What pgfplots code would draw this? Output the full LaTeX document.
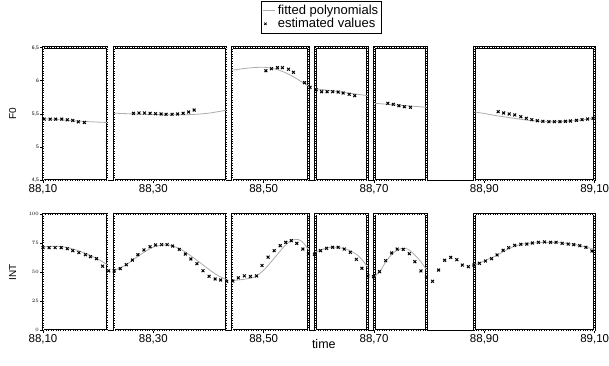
\documentclass[border=0pt]{standalone}
\usepackage{fontspec}
\setmainfont{Liberation Sans}
\usepackage{pgfplots}
\pgfplotsset{compat=1.18}
\begin{document}
\begin{tikzpicture}[x=1pt,y=1pt]
\pgfplotsset{
  seg/.style={black, line width=2.5pt, line join=miter, line cap=rect,
    postaction={draw, white, line width=0.5pt, dash pattern=on 0.5pt off 1.2pt}, forget plot},
  fit/.style={gray!65, line width=0.8pt, smooth, no markers, forget plot},
  est/.style={only marks, mark=x, mark size=2pt, black, line width=1pt, forget plot},
  base/.style={scale only axis, width=551.7pt, clip=false,
    axis x line=bottom, axis y line=left,
    axis line style={-, line width=0.8pt},
    xmin=88.1, xmax=89.1,
    xtick={88.1,88.3,88.5,88.7,88.9,89.1},
    xticklabels={{88,10},{88,30},{88,50},{88,70},{88,90},{89,10}},
    tick style={black, line width=0.7pt}, major tick length=3pt, tick align=outside,
    xticklabel style={font=\fontsize{11.5}{12}\selectfont, inner sep=1.5pt},
    yticklabel style={font=\fontsize{5}{6}\selectfont, inner sep=1pt},
    ylabel style={font=\fontsize{12.5}{14}\selectfont},
    every axis y label/.style={at={(axis description cs:-0.055,0.5)}, rotate=90, anchor=center},
  },
}
% ---------------- top: F0 ----------------
\begin{axis}[base, at={(43pt,185pt)}, anchor=south west, height=132.3pt,
  ymin=4.5, ymax=6.5, ytick={4.5,5,5.5,6,6.5},
  yticklabels={{4,5},5,{5,5},6,{6,5}},
  ylabel={F0},
  legend style={at={(0.505,1)}, anchor=south, yshift=14.7pt, draw=black, line width=0.5pt,
    font=\fontsize{13}{14}\selectfont, inner sep=1.5pt, row sep=-1.5pt,
    cells={anchor=west}},
  legend cell align=left]
\addplot[seg] coordinates {(88.100,4.5)(88.100,6.5)(88.216,6.5)(88.216,4.5)(88.100,4.5)};
\addplot[seg] coordinates {(88.229,4.5)(88.229,6.5)(88.432,6.5)(88.432,4.5)(88.229,4.5)};
\addplot[seg] coordinates {(88.443,4.5)(88.443,6.5)(88.581,6.5)(88.581,4.5)(88.443,4.5)};
\addplot[seg] coordinates {(88.594,4.5)(88.594,6.5)(88.688,6.5)(88.688,4.5)(88.594,4.5)};
\addplot[seg] coordinates {(88.701,4.5)(88.701,6.5)(88.795,6.5)(88.795,4.5)(88.701,4.5)};
\addplot[seg] coordinates {(88.882,4.5)(88.882,6.5)(89.100,6.5)(89.100,4.5)(88.882,4.5)};
% fitted polynomials
\addplot[fit] coordinates {(88.100,5.425)(88.120,5.418)(88.140,5.405)(88.160,5.393)(88.180,5.383)(88.200,5.375)(88.216,5.370)};
\addplot[fit] coordinates {(88.229,5.510)(88.260,5.500)(88.300,5.490)(88.340,5.485)(88.370,5.490)(88.400,5.510)(88.432,5.555)};
\addplot[fit] coordinates {(88.443,6.160)(88.460,6.180)(88.480,6.198)(88.500,6.204)(88.520,6.180)(88.540,6.120)(88.560,6.030)(88.581,5.920)};
\addplot[fit] coordinates {(88.594,5.880)(88.640,5.830)(88.688,5.775)};
\addplot[fit] coordinates {(88.701,5.660)(88.750,5.628)(88.795,5.600)};
\addplot[fit] coordinates {(88.882,5.530)(88.900,5.505)(88.920,5.475)(88.940,5.450)(88.960,5.425)(88.980,5.402)(89.000,5.390)(89.020,5.383)(89.040,5.385)(89.060,5.395)(89.080,5.412)(89.100,5.432)};
% estimated values
\addplot[est] coordinates {
(88.102,5.42)(88.113,5.42)(88.123,5.42)(88.134,5.42)(88.144,5.41)(88.154,5.40)(88.164,5.38)(88.175,5.37)
(88.264,5.508)(88.274,5.513)(88.284,5.513)(88.294,5.508)(88.304,5.502)(88.314,5.498)(88.323,5.493)(88.334,5.493)(88.344,5.498)(88.354,5.508)(88.364,5.528)(88.374,5.558)
(88.504,6.152)(88.514,6.183)(88.525,6.198)(88.534,6.198)(88.545,6.174)(88.554,6.128)(88.574,5.971)(88.584,5.901)
(88.595,5.865)(88.605,5.835)(88.615,5.835)(88.625,5.835)(88.635,5.830)(88.644,5.815)(88.655,5.796)(88.665,5.775)
(88.725,5.659)(88.735,5.644)(88.745,5.623)(88.755,5.608)(88.766,5.599)
(88.925,5.533)(88.935,5.513)(88.945,5.498)(88.955,5.483)(88.966,5.457)(88.976,5.433)(88.986,5.412)(88.996,5.396)(89.006,5.387)(89.017,5.382)(89.027,5.382)(89.037,5.382)(89.047,5.387)(89.056,5.392)(89.067,5.402)(89.077,5.412)(89.087,5.422)(89.097,5.433)
};
\addlegendimage{legend image code/.code={\draw[gray!65, line width=0.8pt] (0pt,0pt) -- (12pt,0pt);}}
\addlegendentry{fitted polynomials}
\addlegendimage{legend image code/.code={\path[draw=none] (0pt,0pt) -- (12pt,0pt); \draw[black, line width=0.8pt, mark=x, mark size=1.6pt, only marks] plot coordinates {(2pt,0pt)};}}
\addlegendentry{estimated values}
\end{axis}
% ---------------- bottom: INT ----------------
\begin{axis}[base, at={(43pt,35pt)}, anchor=south west, height=116pt,
  ymin=0, ymax=100, ytick={0,25,50,75,100},
  ylabel={INT},
  xlabel={time},
  every axis x label/.style={at={(axis description cs:0.509,0)}, anchor=center, yshift=-14pt, font=\fontsize{12.5}{14}\selectfont}]
\addplot[seg] coordinates {(88.100,0)(88.100,100)(88.216,100)(88.216,0)(88.100,0)};
\addplot[seg] coordinates {(88.229,0)(88.229,100)(88.432,100)(88.432,0)(88.229,0)};
\addplot[seg] coordinates {(88.443,0)(88.443,100)(88.581,100)(88.581,0)(88.443,0)};
\addplot[seg] coordinates {(88.594,0)(88.594,100)(88.688,100)(88.688,0)(88.594,0)};
\addplot[seg] coordinates {(88.701,0)(88.701,100)(88.795,100)(88.795,0)(88.701,0)};
\addplot[seg] coordinates {(88.882,0)(88.882,100)(89.100,100)(89.100,0)(88.882,0)};
% fitted polynomials
\addplot[fit] coordinates {(88.100,71.5)(88.120,72.2)(88.140,71.5)(88.160,69.0)(88.180,65.5)(88.200,61.0)(88.216,56.5)};
\addplot[fit] coordinates {(88.229,51.5)(88.250,56.0)(88.275,64.5)(88.300,71.5)(88.325,73.5)(88.350,69.5)(88.375,61.5)(88.400,52.5)(88.415,47.5)(88.432,43.5)};
\addplot[fit] coordinates {(88.443,42.5)(88.465,43.8)(88.485,46.0)(88.503,53.0)(88.521,63.0)(88.539,73.0)(88.551,77.3)(88.563,78.0)(88.572,75.0)(88.581,69.5)};
\addplot[fit] coordinates {(88.594,67.0)(88.612,70.4)(88.630,71.3)(88.651,69.5)(88.672,63.8)(88.688,54.6)};
\addplot[fit] coordinates {(88.701,46.0)(88.712,51.5)(88.721,58.5)(88.735,66.5)(88.751,70.4)(88.762,69.5)(88.772,65.5)(88.784,59.5)(88.795,52.0)};
\addplot[fit] coordinates {(88.882,56.0)(88.900,59.5)(88.923,64.5)(88.940,69.0)(88.955,72.3)(88.975,74.5)(88.996,75.3)(89.030,75.4)(89.060,74.0)(89.080,72.0)(89.100,69.5)};
% estimated values
\addplot[est] coordinates {
(88.100,71.0)(88.111,71.0)(88.122,71.0)(88.133,71.0)(88.144,70.1)(88.154,68.4)(88.165,66.7)(88.177,64.9)(88.186,63.2)(88.197,61.5)
(88.208,55.0)(88.219,51.0)(88.229,51.0)(88.240,52.9)(88.251,56.3)(88.262,60.3)(88.272,64.9)(88.283,69.0)(88.294,71.8)(88.304,73.3)
(88.315,73.6)(88.325,73.6)(88.335,72.4)(88.347,69.5)(88.358,65.5)(88.368,61.2)(88.379,57.2)(88.390,51.1)(88.401,46.3)(88.412,44.0)
(88.422,43.1)(88.433,42.0)(88.444,42.2)(88.454,45.0)(88.465,46.7)(88.476,46.2)(88.487,46.6)(88.497,55.6)(88.508,62.8)(88.519,68.4)
(88.530,72.7)(88.540,75.6)(88.550,77.1)(88.560,74.7)(88.571,69.8)(88.581,65.4)(88.592,65.4)(88.603,68.4)(88.614,70.4)(88.625,71.3)
(88.635,71.3)(88.646,69.8)(88.657,67.0)(88.668,60.9)(88.678,53.2)(88.689,46.6)(88.699,46.0)(88.710,50.3)(88.721,59.8)(88.732,66.4)
(88.742,69.8)(88.753,69.5)(88.764,65.8)(88.774,58.9)(88.785,50.9)(88.795,46.0)(88.806,42.0)(88.817,51.7)(88.828,60.1)(88.839,62.6)
(88.850,60.6)(88.860,56.0)(88.871,54.6)(88.881,56.0)(88.891,57.5)(88.902,59.5)(88.913,61.5)(88.923,64.7)(88.934,68.7)(88.944,71.0)
(88.955,73.0)(88.966,73.9)(88.977,74.1)(88.987,75.0)(88.998,75.6)(89.009,75.9)(89.020,75.6)(89.030,75.6)(89.041,74.7)(89.052,74.1)
(89.062,73.6)(89.073,72.7)(89.084,71.3)(89.095,68.1)
};
\end{axis}
\pgfresetboundingbox
\useasboundingbox (0pt,0pt) rectangle (609pt,365pt);
\end{tikzpicture}
\end{document}
